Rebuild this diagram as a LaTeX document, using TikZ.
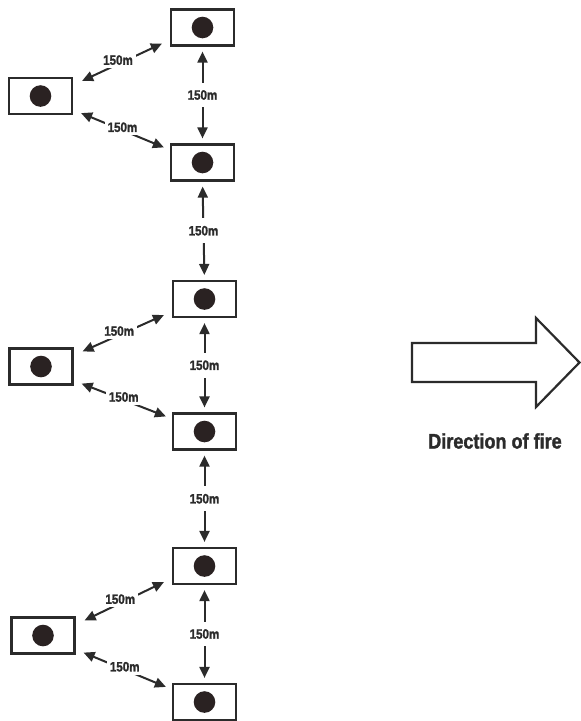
\documentclass[tikz,border=0pt]{standalone}
\usepackage{fontspec}
\setmainfont{Liberation Sans}
\newfontfamily\condbold[FakeStretch=0.86,FakeBold=1.5]{Liberation Sans Bold}
\usetikzlibrary{arrows.meta}
\definecolor{ink}{HTML}{2B2B2B}
\definecolor{dotc}{HTML}{2A2222}
\tikzset{
  site/.style={draw=ink, line width=2.2pt, minimum width=63pt, minimum height=36pt, inner sep=0pt,
    path picture={\fill[dotc] (path picture bounding box.center) circle (10.8pt);}},
  arr/.style={draw=ink, line width=2pt, {Triangle[length=11pt,width=10pt]}-{Triangle[length=11pt,width=10pt]}},
  lab/.style={font=\condbold\fontsize{13.5}{14}\selectfont, text=ink, fill=white, inner sep=3pt},
  vlab/.style={lab, inner xsep=2pt, inner ysep=7.5pt},
}
\begin{document}
\begin{tikzpicture}[x=1pt,y=-1pt]
\useasboundingbox[fill=white] (0,0) rectangle (581,721);
% right column
\node[site] (R1) at (202.5,27.5) {};
\node[site] (R2) at (202.5,162.5) {};
\node[site] (R3) at (204.5,299) {};
\node[site] (R4) at (204.5,431.5) {};
\node[site] (R5) at (204.5,566) {};
\node[site] (R6) at (204.5,702) {};
% left column
\node[site] (L1) at (40.5,96) {};
\node[site] (L2) at (41,366.5) {};
\node[site] (L3) at (43,635.5) {};
% vertical connectors
\foreach \a/\b in {R1/R2,R2/R3,R3/R4,R4/R5,R5/R6}{
  \draw[arr, shorten <=5pt, shorten >=5pt] (\a.south) -- node[vlab]{150m} (\b.north);
}
% diagonal connectors
\foreach \l/\u/\d in {L1/R1/R2,L2/R3/R4,L3/R5/R6}{
  \draw[arr] ([shift={(9,4)}]\l.north east) -- node[lab, pos=0.45, yshift=4pt]{150m} ([shift={(-8,-3)}]\u.south west);
  \draw[arr] ([shift={(8,-2)}]\l.south east) -- node[lab, pos=0.5, yshift=3pt]{150m} ([shift={(-6,4)}]\d.north west);
}
% direction of fire
\draw[ink, line width=2.2pt, line join=miter, fill=white]
  (412,343) -- (536,343) -- (536,318) -- (579.5,362.5) -- (536,407) -- (536,382) -- (412,382) -- cycle;
\node[font=\condbold\fontsize{21}{23}\selectfont, text=ink] (dir) at (495,441) {Direction of fire};
\end{tikzpicture}
\end{document}
